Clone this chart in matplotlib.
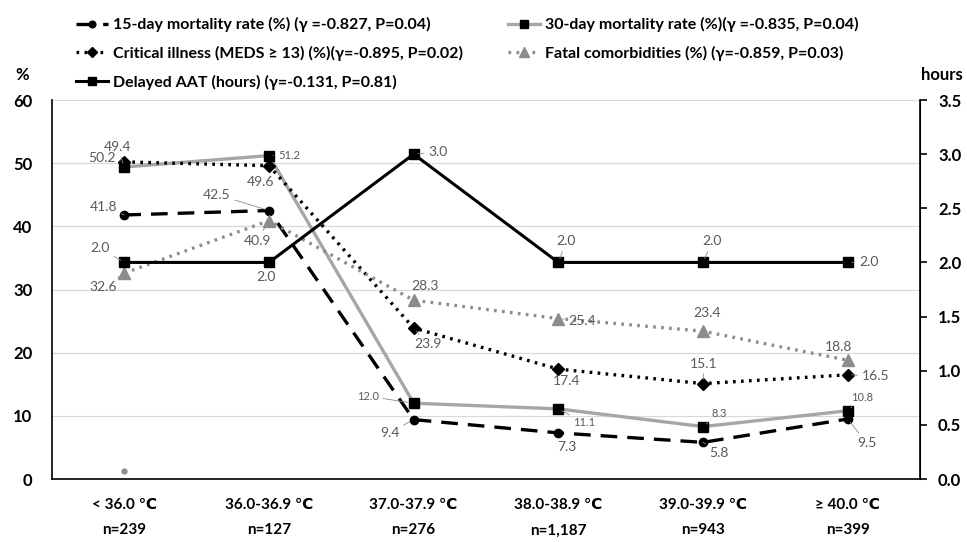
import numpy as np
import matplotlib
matplotlib.use("Agg")
import matplotlib.pyplot as plt

plt.rcParams['font.family'] = ['Lato', 'DejaVu Sans']

categories = ['< 36.0 \u2103', '36.0-36.9 \u2103', '37.0-37.9 \u2103',
              '38.0-38.9 \u2103', '39.0-39.9 \u2103', '\u2265 40.0 \u2103']
counts = ['n=239', 'n=127', 'n=276', 'n=1,187', 'n=943', 'n=399']

mort15 = [41.8, 42.5, 9.4, 7.3, 5.8, 9.5]
mort30 = [49.4, 51.2, 12.0, 11.1, 8.3, 10.8]
critical = [50.2, 49.6, 23.9, 17.4, 15.1, 16.5]
fatal = [32.6, 40.9, 28.3, 25.4, 23.4, 18.8]
aat_hours = [2.0, 2.0, 3.0, 2.0, 2.0, 2.0]
stray_dot = 1.3  # small grey dot visible under the first category

# label offsets in pixels (dx, dy up)
off15 = [(-21, 8), (-52, 16), (-24, -13), (9, -14), (16, -11), (19, -24)]
off30 = [(-7, 20), (20, 0), (-46, 7), (26, -14), (16, 13), (14, 13)]
offcrit = [(-22, 4), (-8, -16), (14, -16), (8, -12), (1, 20), (28, -1)]
offfatal = [(-21, -14), (-12, -20), (11, 14), (24, -2), (4, 18), (-9, 13)]
offaat = [(-24, 14), (-3, -15), (24, 2), (8, 21), (9, 21), (21, 0)]

x = np.arange(len(categories))
lab_col = '#595959'

fig = plt.figure(figsize=(9.67, 5.42), dpi=100)
ax = fig.add_axes([52 / 967, 1 - 479 / 542, 868 / 967, 379 / 542])
ax2 = ax.twinx()

ax.set_ylim(0, 60)
ax.set_xlim(-0.5, 5.5)
ax2.set_ylim(0, 3.5)
ax.set_yticks(np.arange(0, 61, 10))
ax2.set_yticks(np.arange(0, 3.51, 0.5))
ax.yaxis.grid(True, color='#d9d9d9', lw=0.9)
ax.set_axisbelow(True)

l15, = ax.plot(x, mort15, color='black', lw=2.4, ls=(0, (5, 3)), marker='o', ms=6,
               label='15-day mortality rate (%) (\u03b3 =-0.827, P=0.04)')
l30, = ax.plot(x, mort30, color='#a6a6a6', lw=2.4, marker='s', ms=7,
               mfc='black', mec='black',
               label='30-day mortality rate (%)(\u03b3 =-0.835, P=0.04)')
lcr, = ax.plot(x, critical, color='black', lw=2.4, ls=(0, (0.8, 1.6)), marker='D', ms=6,
               label='Critical illness (MEDS \u2265 13) (%)(\u03b3=-0.895, P=0.02)')
lfa, = ax.plot(x, fatal, color='#8c8c8c', lw=2.4, ls=(0, (0.8, 1.6)), marker='^', ms=9,
               label='Fatal comorbidities (%) (\u03b3=-0.859, P=0.03)')
ax.plot([0], [stray_dot], 'o', color='#8c8c8c', ms=3.5)
laat, = ax2.plot(x, aat_hours, color='black', lw=2.2, marker='s', ms=7,
                 label='Delayed AAT (hours) (\u03b3=-0.131, P=0.81)')


def put_labels(axis, vals, offs, small=()):
    for i, (v, (dx, dy)) in enumerate(zip(vals, offs)):
        fs = 8 if i in small else 10
        far = (dx * dx + dy * dy) ** 0.5 > 19
        axis.annotate(f'{v:.1f}', (x[i], v), xytext=(dx, dy), textcoords='offset pixels',
                      ha='center', va='center', color=lab_col, fontsize=fs,
                      arrowprops=dict(arrowstyle='-', color='#8c8c8c', lw=0.6,
                                      shrinkA=1, shrinkB=3) if far else None)


put_labels(ax, mort15, off15)
put_labels(ax, mort30, off30, small=(1, 2, 3, 4, 5))
put_labels(ax, critical, offcrit)
put_labels(ax, fatal, offfatal)
put_labels(ax2, aat_hours, offaat)

for a in (ax, ax2):
    a.spines['top'].set_visible(False)
ax.spines['left'].set_linewidth(1.2)
ax2.spines['right'].set_linewidth(1.2)
ax.spines['bottom'].set_linewidth(1.2)
ax2.spines['left'].set_visible(False)
ax2.spines['bottom'].set_visible(False)

ax.set_xticks(x)
ax.set_xticklabels([f'{c}\n{n}' for c, n in zip(categories, counts)],
                   fontsize=11, fontweight='bold', linespacing=2.0)
ax.tick_params(axis='x', length=0, pad=14)
ax.tick_params(axis='y', length=0, pad=14, labelsize=12)
ax2.tick_params(axis='y', length=5, width=1.2, direction='out', pad=8, labelsize=12)
for t in ax.get_yticklabels() + ax2.get_yticklabels():
    t.set_fontweight('bold')
ax2.set_yticklabels([f'{v:.1f}' for v in np.arange(0, 3.51, 0.5)])

fig.text(22 / 967, 1 - 75 / 542, '%', fontsize=12, fontweight='bold', ha='center', va='center')
fig.text(942 / 967, 1 - 75 / 542, 'hours', fontsize=12, fontweight='bold', ha='center', va='center')

fig.legend(handles=[l15, lcr, laat, l30, lfa], ncol=2, loc='upper left',
           bbox_to_anchor=(62 / 967, 1 - 3 / 542), frameon=False,
           prop={'weight': 'bold', 'size': 11.5}, handlelength=2.0,
           labelspacing=0.85, columnspacing=2.8, handletextpad=0.3, markerscale=0.8)

fig.savefig('out.png', dpi=100)
